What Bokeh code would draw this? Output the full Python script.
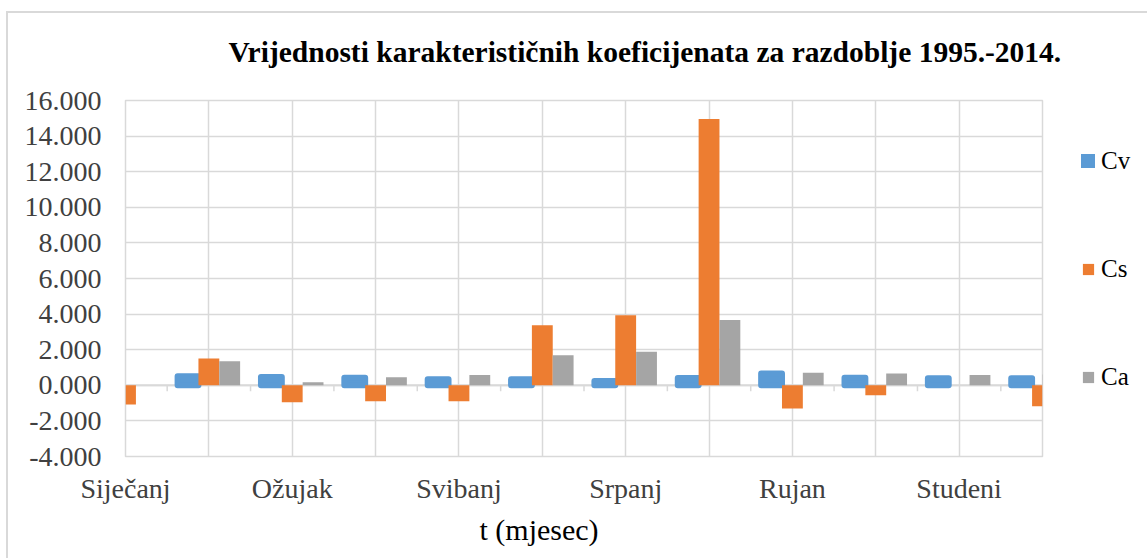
from bokeh.plotting import figure
from bokeh.layouts import row
from bokeh.models import (Range1d, FixedTicker, NumeralTickFormatter, Span, Title,
                          Legend, LegendItem, ColumnDataSource)
from bokeh.transform import dodge
from bokeh.embed import file_html
from bokeh.resources import INLINE

nan = float("nan")
# ---- data ----
months = ["Siječanj", "Veljača", "Ožujak", "Travanj", "Svibanj", "Lipanj",
          "Srpanj", "Kolovoz", "Rujan", "Listopad", "Studeni", "Prosinac"]
cv = [nan, 0.51, 0.47, 0.43, 0.34, 0.34, 0.24, 0.41, 0.66, 0.43, 0.39, 0.39]
cs = [-1.08, 1.50, -0.95, -0.90, -0.90, 3.37, 3.93, 14.96, -1.31, -0.56, 0.00, -1.18]
ca = [0.00, 1.35, 0.17, 0.45, 0.58, 1.69, 1.89, 3.67, 0.71, 0.66, 0.58, 0.60]
y_ticks = [-4, -2, 0, 2, 4, 6, 8, 10, 12, 14, 16]
title_text = "Vrijednosti karakterističnih koeficijenata za razdoblje 1995.-2014."
x_title = "t (mjesec)"
series_names = ["Cv", "Cs", "Ca"]
colors = ["#5B9BD5", "#ED7D31", "#A5A5A5"]

idx = list(range(len(months)))
src = ColumnDataSource(dict(x=idx, cv=cv, cs=cs, ca=ca))

FONT = "Liberation Serif"
GRID = "#d9d9d9"

# ---------------- main chart ----------------
p = figure(width=1066, height=558,
           x_range=Range1d(0, len(months) - 1), y_range=Range1d(y_ticks[0], y_ticks[-1]),
           output_backend="svg", toolbar_location=None,
           min_border_left=125, min_border_right=24, min_border_top=100, min_border_bottom=102)
p.border_fill_alpha = 0
p.title.text = title_text
p.title.align = "left"
p.title.offset = 103
p.title.standoff = 65
p.title.text_font = FONT
p.title.text_font_style = "bold"
p.title.text_font_size = "29.5px"
p.title.text_color = "black"
p.outline_line_color = GRID
p.outline_line_width = 1.5

# y axis
yax = p.yaxis[0]
yax.ticker = FixedTicker(ticks=y_ticks)
yax.formatter = NumeralTickFormatter(format="0.000")
yax.axis_line_color = None
yax.major_tick_line_color = None
yax.minor_tick_line_color = None
yax.major_label_standoff = 18
yax.major_label_text_font = FONT
yax.major_label_text_font_size = "28px"
yax.major_label_text_color = "#404040"

# x axis
xax = p.xaxis[0]
label_ticks = idx[::2]
xax.ticker = FixedTicker(ticks=label_ticks)
xax.major_label_overrides = {i: months[i] for i in label_ticks}
xax.axis_line_color = None
xax.major_tick_line_color = None
xax.minor_tick_line_color = None
xax.major_label_standoff = 10
xax.major_label_text_font = FONT
xax.major_label_text_font_size = "28px"
xax.major_label_text_color = "#404040"

p.add_layout(Title(text=x_title, align="left", offset=354, standoff=9,
                   text_font=FONT, text_font_style="normal", text_font_size="30px",
                   text_color="black"), "below")

# grids
p.xgrid[0].ticker = FixedTicker(ticks=idx)
p.xgrid[0].grid_line_color = GRID
p.xgrid[0].grid_line_width = 1.5
p.ygrid[0].grid_line_color = GRID
p.ygrid[0].grid_line_width = 1.5

# zero line and small ticks between categories
p.add_layout(Span(location=0, dimension="width", line_color=GRID, line_width=2, level="underlay"))
halves = [i + 0.5 for i in idx[:-1]]
p.segment(x0=halves, y0=[0] * len(halves), x1=halves, y1=[-0.33] * len(halves),
          line_color=GRID, line_width=1.5, level="underlay")

# bars
bar_styles = [dict(fill_color=colors[0], line_color=colors[0], line_width=6, line_join="round"),
              dict(fill_color=colors[1], line_color=None),
              dict(fill_color=colors[2], line_color=None)]
p.vbar(x=dodge("x", -0.25), top="cv", width=0.25, source=src, **bar_styles[0])
p.vbar(x=dodge("x", 0.0), top="cs", width=0.25, source=src, **bar_styles[1])
p.vbar(x=dodge("x", 0.25), top="ca", width=0.25, source=src, **bar_styles[2])

# ---------------- legend panel ----------------
q = figure(width=81, height=558, x_range=Range1d(0, 1), y_range=Range1d(0, 1),
           x_axis_type=None, y_axis_type=None, output_backend="svg", toolbar_location=None,
           min_border=0, outline_line_color=None)
q.title.visible = False
q.border_fill_alpha = 0
q.background_fill_alpha = 0
# hidden proxy renderers that carry the legend swatches
legend_renderers = [q.vbar(x=[5], top=[5], bottom=[4], width=0.1, visible=False, **st)
                    for st in bar_styles]
legend = Legend(items=[LegendItem(label=n, renderers=[r])
                       for n, r in zip(series_names, legend_renderers)],
                location=(15, 64), orientation="vertical",
                label_text_font=FONT, label_text_font_size="25px", label_text_color="black",
                glyph_width=14, glyph_height=14, label_standoff=6, label_height=30,
                spacing=78, padding=0, margin=0,
                border_line_color=None, background_fill_alpha=0)
q.add_layout(legend)

# light chart-area border (top and left edges) behind the transparent figure borders
frame_css = ("linear-gradient(#d9d9d9, #d9d9d9) 6px 11px / 1141px 2px no-repeat, "
             "linear-gradient(#d9d9d9, #d9d9d9) 6px 11px / 2px 547px no-repeat, #ffffff")
layout = row(p, q, styles={"background": frame_css})
open("out.html", "w").write(file_html(layout, INLINE))
